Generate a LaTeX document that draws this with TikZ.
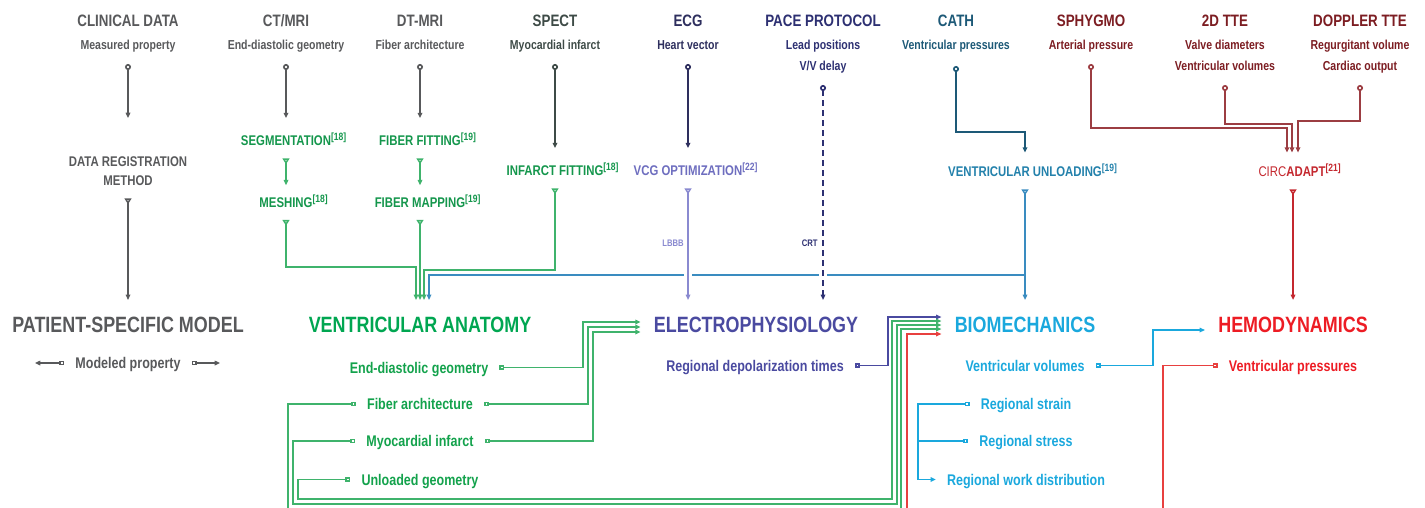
\documentclass[tikz,border=0pt]{standalone}
\usepackage{fontspec}
\setmainfont{Liberation Sans}[FakeStretch=0.81]
\usetikzlibrary{arrows.meta}

\definecolor{datagray}{HTML}{58595B}
\definecolor{spectgray}{HTML}{3E4B47}
\definecolor{ecgnavy}{HTML}{2E2F5E}
\definecolor{pacenavy}{HTML}{2D3072}
\definecolor{cathteal}{HTML}{1D5977}
\definecolor{ttered}{HTML}{7C1D22}
\definecolor{tteline}{HTML}{9C3D42}
\definecolor{methgreen}{HTML}{14964C}
\definecolor{anatgreen}{HTML}{00A651}
\definecolor{propgreen}{HTML}{13A24C}
\definecolor{linegreen}{HTML}{3FB36C}
\definecolor{vcgpurple}{HTML}{6E6EBF}
\definecolor{lbbbpurple}{HTML}{8A8AD0}
\definecolor{eppurple}{HTML}{4A4AA0}
\definecolor{unlblue}{HTML}{2381AB}
\definecolor{busblue}{HTML}{3A8CC0}
\definecolor{bmcyan}{HTML}{1AA8DD}
\definecolor{circred}{HTML}{C4282F}
\definecolor{hdred}{HTML}{ED1C24}
\definecolor{linered}{HTML}{E8403F}

\newcommand{\refno}[1]{\rlap{\smash{\textsuperscript{[#1]}}}}

\begin{document}
\begin{tikzpicture}[x=0.02cm,y=-0.02cm,
  head/.style={font=\bfseries\fontsize{9.4}{11}\selectfont,inner sep=0pt},
  meas/.style={font=\bfseries\fontsize{7.4}{9}\selectfont,inner sep=0pt,anchor=base},
  method/.style={font=\bfseries\fontsize{8}{10.8}\selectfont,align=center,inner xsep=2pt,inner ysep=6.8pt},
  model/.style={font=\bfseries\fontsize{12.6}{14}\selectfont,inner xsep=7.4pt,inner ysep=9.6pt},
  prop/.style={font=\bfseries\fontsize{8.8}{10}\selectfont,text height=6.3pt,text depth=0pt,inner xsep=6.2pt,inner ysep=1pt},
  tag/.style={font=\bfseries\fontsize{5.4}{6}\selectfont,inner sep=0pt},
  conn/.style={line width=0.95pt},
  fromdata/.style={conn,arrows={Circle[open,length=3.4pt]-Triangle[length=3pt,width=2.6pt]}},
  frommethod/.style={conn,arrows={Triangle[open,reversed,length=3.4pt,width=4pt]-Triangle[length=3pt,width=2.6pt]}},
  fromprop/.style={conn,arrows={Square[open,length=2.8pt,width=2.8pt]-Triangle[length=3pt,width=2.6pt]}},
  propend/.style={conn,arrows={Square[open,length=2.8pt,width=2.8pt]-}},
  plain/.style={conn,-{Triangle[length=3pt,width=2.6pt]}},
  gap/.style={preaction={draw=white,solid,line width=5pt,arrows=-}}]
  \useasboundingbox (0,0) rectangle (1425,507);
  \clip (0,0) rectangle (1425,507);

  % the data sources
  \node[head,datagray] (cd) at (128,20.5) {CLINICAL DATA};
  \node[meas,datagray] (cd-p) at (128,49.5) {Measured property};
  \node[head,datagray] (ct) at (286,20.5) {CT/MRI};
  \node[meas,datagray] (ct-p) at (286,49.5) {End-diastolic geometry};
  \node[head,datagray] (dt) at (420,20.5) {DT-MRI};
  \node[meas,datagray] (dt-p) at (420,49.5) {Fiber architecture};
  \node[head,spectgray] (sp) at (555,20.5) {SPECT};
  \node[meas,spectgray] (sp-p) at (555,49.5) {Myocardial infarct};
  \node[head,ecgnavy] (ecg) at (688,20.5) {ECG};
  \node[meas,ecgnavy] (ecg-p) at (688,49.5) {Heart vector};
  \node[head,pacenavy] (pace) at (823,20.5) {PACE PROTOCOL};
  \node[meas,pacenavy] (pace-p) at (823,49.5) {Lead positions};
  \node[meas,pacenavy] (pace-q) at (823,70.5) {V/V delay};
  \node[head,cathteal] (cath) at (956,20.5) {CATH};
  \node[meas,cathteal] (cath-p) at (956,49.5) {Ventricular pressures};
  \node[head,ttered] (sph) at (1091,20.5) {SPHYGMO};
  \node[meas,ttered] (sph-p) at (1091,49.5) {Arterial pressure};
  \node[head,ttered] (tte) at (1225,20.5) {2D TTE};
  \node[meas,ttered] (tte-p) at (1225,49.5) {Valve diameters};
  \node[meas,ttered] (tte-q) at (1225,70.5) {Ventricular volumes};
  \node[head,ttered] (dop) at (1360,20.5) {DOPPLER TTE};
  \node[meas,ttered] (dop-p) at (1360,49.5) {Regurgitant volume};
  \node[meas,ttered] (dop-q) at (1360,70.5) {Cardiac output};

  % where the measured properties leave
  \coordinate (cd-o) at (128,64);
  \coordinate (ct-o) at (286,64);
  \coordinate (dt-o) at (420,64);
  \coordinate (sp-o) at (555,64);
  \coordinate (ecg-o) at (688,64);
  \coordinate (pace-o) at (823,85);
  \coordinate (cath-o) at (956,66);
  \coordinate (sph-o) at (1091,64);
  \coordinate (tte-o) at (1225,85);
  \coordinate (dop-o) at (1360,85);
  \coordinate (dreg-in) at (128,118);

  % the methods
  \node[method,datagray] (dreg) at (128,171.5) {DATA REGISTRATION\\METHOD};
  \node[method,methgreen] (seg) at (286,141) {SEGMENTATION\refno{18}};
  \node[method,methgreen] (mesh) at (286,202.5) {MESHING\refno{18}};
  \node[method,methgreen] (ffit) at (420,141) {FIBER FITTING\refno{19}};
  \node[method,methgreen] (fmap) at (420,202.5) {FIBER MAPPING\refno{19}};
  \node[method,methgreen] (ifit) at (555,171) {INFARCT FITTING\refno{18}};
  \node[method,vcgpurple] (vcg) at (688,171) {VCG OPTIMIZATION\refno{22}};
  \node[method,unlblue] (vunl) at (1025,172) {VENTRICULAR UNLOADING\refno{19}};
  \node[method,circred] (circ) at (1292,172) {{\mdseries CIRC}ADAPT\refno{21}};

  % the parts of the model
  \node[model,datagray] (psm) at (128,325) {PATIENT-SPECIFIC MODEL};
  \node[model,anatgreen] (va) at (420,325) {VENTRICULAR ANATOMY};
  \node[model,eppurple] (ep) at (756,325) {ELECTROPHYSIOLOGY};
  \node[model,bmcyan] (bm) at (1025,325) {BIOMECHANICS};
  \node[model,hdred] (hd) at (1293,325) {HEMODYNAMICS};

  % modeled properties
  \node[prop,datagray] (mp) at (128,363) {Modeled property};
  \node[prop,propgreen] (edg) at (419,367.5) {End-diastolic geometry};
  \node[prop,propgreen] (fa) at (420,404) {Fiber architecture};
  \node[prop,propgreen] (mi) at (420,441) {Myocardial infarct};
  \node[prop,propgreen] (ug) at (420,479.5) {Unloaded geometry};
  \node[prop,eppurple] (rdt) at (755,365.5) {Regional depolarization times};
  \node[prop,bmcyan] (vv) at (1025,365.5) {Ventricular volumes};
  \node[prop,bmcyan] (rs) at (1026,404) {Regional strain};
  \node[prop,bmcyan] (rst) at (1026,441) {Regional stress};
  \node[prop,bmcyan] (rwd) at (1026,479.5) {Regional work distribution};
  \node[prop,hdred] (vp) at (1293,365.5) {Ventricular pressures};
  \coordinate (leg-l) at (35,363);
  \coordinate (leg-r) at (220,363);

  % data into methods
  \draw[fromdata,datagray] (cd-o) -- (dreg-in);
  \draw[fromdata,datagray,shorten >=3.2pt] (ct-o) -- (seg.north);
  \draw[fromdata,datagray,shorten >=3.2pt] (dt-o) -- (ffit.north);
  \draw[fromdata,spectgray,shorten >=3.2pt] (sp-o) -- (ifit.north);
  \draw[fromdata,ecgnavy,shorten >=3.2pt] (ecg-o) -- (vcg.north);
  \draw[fromdata,cathteal,shorten >=1.2pt] (cath-o) |- (1025,132) -- (vunl.north);
  \draw[fromdata,tteline,shorten >=1.2pt] (sph-o) |- (1287,128) -- (circ.north -| 1287,0);
  \draw[fromdata,tteline,shorten >=1.2pt] (tte-o) |- (1292,124) -- (circ.north -| 1292,0);
  \draw[fromdata,tteline,shorten >=1.2pt] (dop-o) |- (1298,121) -- (circ.north -| 1298,0);

  % methods into the model
  \draw[frommethod,datagray] (dreg.south) -- (psm.north);
  \draw[frommethod,linegreen] (seg.south) -- (mesh.north);
  \draw[frommethod,linegreen] (ffit.south) -- (fmap.north);
  \draw[frommethod,linegreen] (mesh.south) |- (416,267) -- (va.north -| 416,0);
  \draw[frommethod,linegreen] (fmap.south) -- (va.north -| fmap.south);
  \draw[frommethod,linegreen] (ifit.south) |- (424,270) -- (va.north -| 424,0);
  \draw[frommethod,busblue] (vunl.south) -- (bm.north -| vunl.south);
  \draw[plain,busblue] (vunl.south |- 0,275) -| (va.north -| 429,0);
  \draw[frommethod,lbbbpurple,gap] (vcg.south) -- (ep.north -| vcg.south);
  \draw[fromdata,pacenavy,dash pattern=on 3.4pt off 2.3pt,gap] (pace-o) -- (ep.north -| pace-o);
  \draw[frommethod,circred] (circ.south -| 1293,0) -- (hd.north -| 1293,0);
  \node[tag,lbbbpurple,anchor=east] (lbbb) at (684,243) {LBBB};
  \node[tag,pacenavy,anchor=east] (crt) at (818,243) {CRT};

  % legend
  \draw[fromprop,datagray] (mp.west) -- (leg-l);
  \draw[fromprop,datagray] (mp.east) -- (leg-r);

  % anatomy into electrophysiology
  \draw[fromprop,linegreen] (edg.east) -| (583,322) -- (ep.west |- 0,322);
  \draw[fromprop,linegreen] (fa.east) -| (588,327) -- (ep.west |- 0,327);
  \draw[fromprop,linegreen] (mi.east) -| (593,332) -- (ep.west |- 0,332);

  % everything into biomechanics
  \draw[fromprop,eppurple] (rdt.east) -| (888,317) -- (bm.west |- 0,317);
  \draw[fromprop,linegreen] (ug.west) -| (298,499) -| (892,321) -- (bm.west |- 0,321);
  \draw[fromprop,linegreen] (mi.west) -| (293,504) -| (897,325) -- (bm.west |- 0,325);
  \draw[fromprop,linegreen] (fa.west) -| (288,512) -| (901,329) -- (bm.west |- 0,329);
  \draw[fromprop,linered] (vp.west) -| (1163,514) -| (907,334) -- (bm.west |- 0,334);

  % biomechanics outputs
  \draw[fromprop,bmcyan] (vv.east) -| (1153,330) -- (hd.west |- 0,330);
  \draw[fromprop,bmcyan] (rs.west) -| (918,479.5) -- (rwd.west);
  \draw[propend,bmcyan] (rst.west) -- (rst.west -| 918,0);
\end{tikzpicture}
\end{document}
